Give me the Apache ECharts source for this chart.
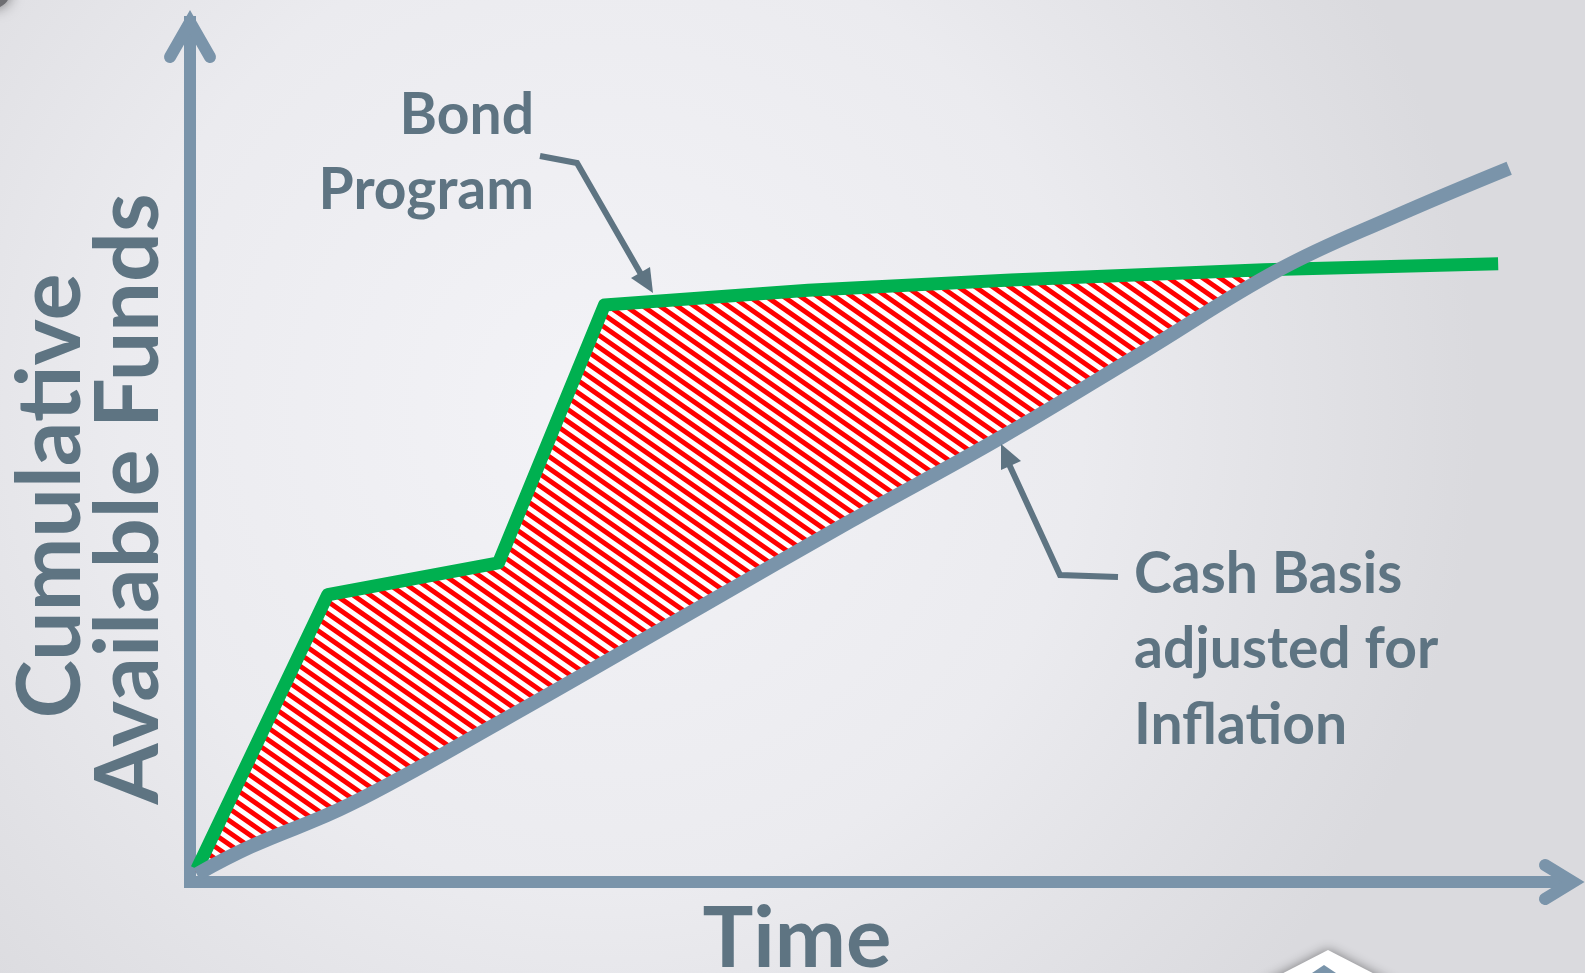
<!DOCTYPE html>
<html>
<head>
<meta charset="utf-8">
<script src="https://cdn.jsdelivr.net/npm/echarts@6/dist/echarts.min.js"></script>
<style>
html,body{margin:0;padding:0;width:1585px;height:973px;overflow:hidden;}
#chart{width:1585px;height:973px;}
</style>
</head>
<body>
<div id="chart"></div>
<script>
// ---- data (abstract units: time 0..100, funds 0..100) ----
const bondX = [0.5, 10.0, 22.4, 30.1, 44.9, 59.6, 78.0, 95.0];
const bondY = [1.5, 33.4, 37.1, 67.1, 68.8, 70.0, 71.2, 71.9];
const cashX = [0.5, 4.4, 11.6, 22.5, 37.0, 47.9, 58.9, 69.0, 79.1, 87.5, 95.8];
const cashY = [0.9, 4.1, 9.0, 18.6, 31.9, 41.9, 51.7, 61.4, 71.2, 77.4, 83.0];
const bondLabel = ['Bond', 'Program'];
const cashLabel = ['Cash Basis', 'adjusted for', 'Inflation'];
const yLabel = ['Cumulative', 'Available Funds'];
const xLabel = 'Time';

const AXIS = '#7a94aa';
const TEXT = '#5e7482';
const GREEN = '#00b050';

function pairs(xs, ys){ return xs.map((x,i)=>[x, ys[i]]); }
const bondData = pairs(bondX, bondY);
const cashData = pairs(cashX, cashY);

function interp(xs, ys, x){
  for (let i=0;i<xs.length-1;i++){
    if (x>=xs[i] && x<=xs[i+1]) {
      const t=(x-xs[i])/(xs[i+1]-xs[i]);
      return ys[i]+t*(ys[i+1]-ys[i]);
    }
  }
  return ys[ys.length-1];
}
// crossing point of the two series
let crossX = cashX[cashX.length-1];
for (let i=0;i<cashX.length-1;i++){
  const d0 = interp(bondX,bondY,cashX[i]) - cashY[i];
  const d1 = interp(bondX,bondY,cashX[i+1]) - cashY[i+1];
  if (d0>0 && d1<=0){ crossX = cashX[i] + (cashX[i+1]-cashX[i])*d0/(d0-d1); break; }
}
const crossY = interp(cashX, cashY, crossX);

// hatch stripes clipped to polygon (pixel space), lines y = s*x + c
function hatchPath(pts, s, step){
  let cmin=Infinity, cmax=-Infinity;
  pts.forEach(p=>{ const c=p[1]-s*p[0]; cmin=Math.min(cmin,c); cmax=Math.max(cmax,c); });
  let d='';
  const n=pts.length;
  for (let c=Math.floor(cmin/step)*step; c<=cmax; c+=step){
    const xs=[];
    for (let i=0;i<n;i++){
      const a=pts[i], b=pts[(i+1)%n];
      const fa=a[1]-s*a[0]-c, fb=b[1]-s*b[0]-c;
      if ((fa<0 && fb>=0) || (fa>=0 && fb<0)){
        const t=fa/(fa-fb);
        xs.push(a[0]+t*(b[0]-a[0]));
      }
    }
    xs.sort((u,v)=>u-v);
    for (let k=0;k+1<xs.length;k+=2){
      d+='M'+xs[k].toFixed(2)+' '+(s*xs[k]+c).toFixed(2)+'L'+xs[k+1].toFixed(2)+' '+(s*xs[k+1]+c).toFixed(2);
    }
  }
  return d;
}

const chart = echarts.init(document.getElementById('chart'));
const option = {
  animation:false,
  backgroundColor:{type:'radial', x:0.38, y:0.42, r:0.9,
    colorStops:[{offset:0,color:'#f3f3f7'},{offset:0.55,color:'#ebebef'},{offset:1,color:'#dadade'}]},
  grid:{left:190, right:18, top:22, bottom:91, containLabel:false, outerBoundsMode:'none'},
  xAxis:{type:'value', min:0, max:100, axisLabel:{show:false}, axisTick:{show:false}, splitLine:{show:false},
    axisLine:{show:true, onZero:false, lineStyle:{color:AXIS, width:12, cap:'square'}}},
  yAxis:{type:'value', min:0, max:100, axisLabel:{show:false}, axisTick:{show:false}, splitLine:{show:false},
    axisLine:{show:true, onZero:false, lineStyle:{color:AXIS, width:12, cap:'square'}}},
  series:[
    {type:'custom', z:1, data:[[0,0]], silent:true, clip:false,
      renderItem:function(params, api){
        const pts=[];
        bondData.forEach(p=>{ if(p[0]<crossX) pts.push(api.coord(p)); });
        pts.push(api.coord([crossX, crossY]));
        for (let i=cashData.length-1;i>=0;i--){ if(cashData[i][0]<crossX) pts.push(api.coord(cashData[i])); }
        return {type:'group', children:[
          {type:'polygon', shape:{points:pts}, style:{fill:'#ffffff', stroke:null}},
          {type:'path', shape:{pathData:hatchPath(pts, 0.7, 12)}, style:{stroke:'#ff0000', lineWidth:4.9, fill:null}}
        ]};
      }},
    {type:'line', name:'Bond Program', z:2, data:bondData, smooth:false, symbol:'none',
      lineStyle:{color:GREEN, width:13, join:'round'}},
    {type:'line', name:'Cash Basis adjusted for Inflation', z:3, data:cashData, smooth:0.4, symbol:'none',
      lineStyle:{color:AXIS, width:14, cap:'butt'}}
  ]
};
chart.setOption(option);

const g = [];
// axis arrow heads
g.push({type:'polyline', z:10, shape:{points:[[170,57],[190,22],[210,57]]}, style:{stroke:AXIS, lineWidth:12, fill:null, lineCap:'round', lineJoin:'miter'}});
g.push({type:'polyline', z:10, shape:{points:[[1545,865],[1573,882],[1545,899]]}, style:{stroke:AXIS, lineWidth:12, fill:null, lineCap:'round', lineJoin:'miter'}});
// annotation arrows
g.push({type:'polyline', z:10, shape:{points:[[540,156],[577,163],[642,276]]}, style:{stroke:TEXT, lineWidth:6, fill:null}});
g.push({type:'polygon', z:10, shape:{points:[[653,293],[631,278],[650,267]]}, style:{fill:TEXT}});
g.push({type:'polyline', z:10, shape:{points:[[1118,577],[1060,575],[1008,462]]}, style:{stroke:TEXT, lineWidth:6, fill:null}});
g.push({type:'polygon', z:10, shape:{points:[[1001,444],[1021,461],[1001,470]]}, style:{fill:TEXT}});
// texts
const F1 = 'bold 57px Lato';
g.push({type:'text', z:10, x:534, y:116, style:{text:bondLabel[0], font:F1, fill:TEXT, align:'right', verticalAlign:'middle'}});
g.push({type:'text', z:10, x:534, y:191, style:{text:bondLabel[1], font:F1, fill:TEXT, align:'right', verticalAlign:'middle'}});
[592,667,743].forEach((b,i)=>{
  g.push({type:'text', z:10, x:1134, y:b-17, style:{text:cashLabel[i], font:F1, fill:TEXT, align:'left', verticalAlign:'middle'}});
});
const F2 = 'bold 85px Lato';
const F3 = 'bold 88px Lato';
g.push({type:'text', z:10, x:797, y:940, style:{text:xLabel, font:F2, fill:TEXT, align:'center', verticalAlign:'middle'}});
g.push({type:'text', z:10, x:52, y:496, rotation:Math.PI/2, style:{text:yLabel[0], font:F3, fill:TEXT, align:'center', verticalAlign:'middle'}});
g.push({type:'text', z:10, x:130, y:499, rotation:Math.PI/2, style:{text:yLabel[1], font:F3, fill:TEXT, align:'center', verticalAlign:'middle'}});
// decorative corner elements
g.push({type:'circle', z:0, shape:{cx:-6, cy:-8, r:16}, style:{fill:'#6e6e72', shadowBlur:14, shadowColor:'rgba(0,0,0,0.5)'}});
g.push({type:'polygon', z:0, shape:{points:[[1260,985],[1328,950],[1396,985]]}, style:{fill:'#ffffff', shadowBlur:12, shadowColor:'rgba(0,0,0,0.45)'}});
g.push({type:'polygon', z:0, shape:{points:[[1312,973],[1324,965],[1336,973]]}, style:{fill:'#7a94aa'}});
chart.setOption({graphic:g});
</script>
</body>
</html>
